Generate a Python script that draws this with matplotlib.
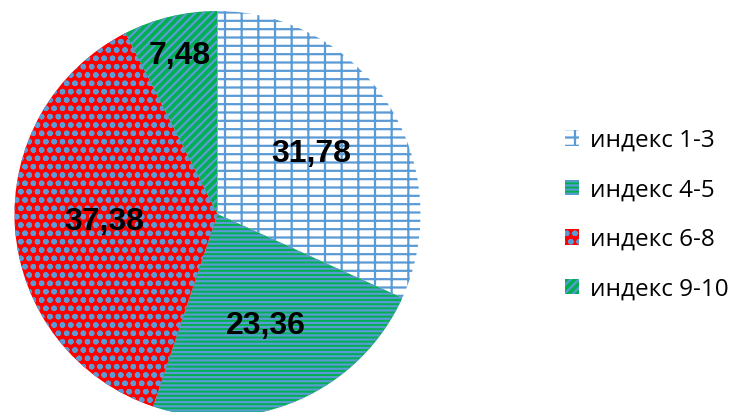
import matplotlib
matplotlib.use("Agg")
import matplotlib.pyplot as plt
import numpy as np

categories = ["индекс 1-3", "индекс 4-5", "индекс 6-8", "индекс 9-10"]
values = [31.78, 23.36, 37.38, 7.48]
value_labels = ["31,78", "23,36", "37,38", "7,48"]

blue = "#5B9BD5"
faces = ["white", "#00B050", "#FF0000", "#00B050"]
hatches = ["+-", "----", "oo", "////"]
label_dist = [0.55, 0.60, 0.56, 0.80]

plt.rcParams["hatch.linewidth"] = 1.6
fig = plt.figure(figsize=(7.34, 4.12), dpi=100)
cx, cy, R = 217.5, 214, 203
ax = fig.add_axes([(cx - R)/734, (412 - cy - R)/412, 2*R/734, 2*R/412])
wedges, _ = ax.pie(values, startangle=90, counterclock=False, radius=1,
                   colors=faces, wedgeprops=dict(edgecolor=blue, linewidth=0))
for w, h in zip(wedges, hatches):
    w.set_hatch(h)
    w.set_edgecolor(blue)

for w, lab, d in zip(wedges, value_labels, label_dist):
    ang = np.deg2rad((w.theta1 + w.theta2) / 2)
    ax.text(d*np.cos(ang), d*np.sin(ang), lab, ha="center", va="center",
            fontsize=23, fontweight="bold", family="Liberation Sans", color="black")
ax.set_xlim(-1, 1)
ax.set_ylim(-1, 1)
ax.set_aspect("equal")
ax.axis("off")

leg = fig.legend(wedges, categories, loc="center left",
                 bbox_to_anchor=(543/734, 1 - 215/412), frameon=False,
                 handlelength=0.6, handleheight=0.6, handletextpad=0.45,
                 labelspacing=1.05, prop=dict(family="Open Sans", size=17.5))
fig.savefig("out.png", dpi=100)
